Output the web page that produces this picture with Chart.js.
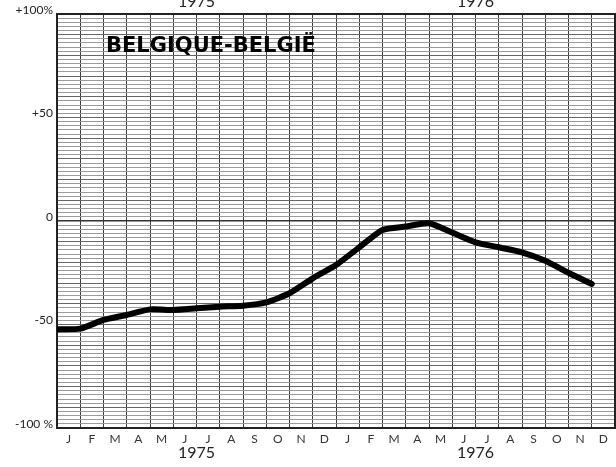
<!DOCTYPE html>
<html>
<head>
<meta charset="utf-8">
<script src="https://cdn.jsdelivr.net/npm/chart.js@4"></script>
<style>
    body { margin: 0; background: #fff; }
    canvas { display: block; }
</style>
</head>
<body>
<canvas id="belgiumChart" width="616" height="467"></canvas>
<script>
// month letters under the x axis, two years
const months = ['J', 'F', 'M', 'A', 'M', 'J', 'J', 'A', 'S', 'O', 'N', 'D',
                'J', 'F', 'M', 'A', 'M', 'J', 'J', 'A', 'S', 'O', 'N', 'D'];
const years = ['1975', '1976'];
// values read at the start of each month (%)
const values = [-52.3, -52.0, -47.8, -45.4, -42.7, -43.0, -42.2, -41.4, -40.9, -39.3, -34.9, -27.7,
                -21.3, -12.7, -4.3, -2.7, -1.1, -5.6, -10.3, -12.7, -15.1, -19.2, -25.0, -30.4];
const yTickValues = [100, 50, 0, -50, -100];
const yTickLabels = ['+100%', '+50', '0', '-50', '-100 %'];
const chartTitle = 'BELGIQUE-BELGIË';

document.addEventListener('DOMContentLoaded', function() {
    var ctx = document.getElementById('belgiumChart').getContext('2d');

    const titlePlugin = {
        id: 'plotTitle',
        afterDraw(chart) {
            const c = chart.ctx;
            const area = chart.chartArea;
            c.save();
            c.font = 'bold 21px "DejaVu Sans"';
            c.fillStyle = '#000';
            c.textBaseline = 'middle';
            c.textAlign = 'left';
            c.fillText(chartTitle, area.left + 49, area.top + 33);
            c.restore();
        }
    };

    new Chart(ctx, {
        type: 'line',
        data: {
            datasets: [{
                data: values.map((v, i) => ({ x: i, y: v })),
                borderColor: '#000',
                borderWidth: 6,
                borderCapStyle: 'round',
                borderJoinStyle: 'round',
                tension: 0.2,
                pointRadius: 0,
                fill: false
            }]
        },
        options: {
            responsive: false,
            animation: false,
            devicePixelRatio: 1,
            layout: { padding: { left: 0, right: 1, top: 0, bottom: 0 } },
            plugins: {
                legend: { display: false },
                tooltip: { enabled: false }
            },
            scales: {
                x: {
                    type: 'linear',
                    position: 'bottom',
                    min: 0,
                    max: 24,
                    ticks: { stepSize: 1, display: false, autoSkip: false },
                    grid: { color: '#3a3a3a', lineWidth: 1, drawTicks: false },
                    border: { color: '#222', width: 2 },
                    afterFit(scale) { scale.height = 0; }
                },
                months: {
                    type: 'category',
                    position: 'bottom',
                    labels: months,
                    offset: true,
                    grid: { display: false, drawTicks: false },
                    border: { display: false },
                    ticks: {
                        autoSkip: false,
                        maxRotation: 0,
                        padding: 4,
                        color: '#333',
                        font: { family: 'Lato', size: 12 }
                    },
                    afterFit(scale) { scale.height = 18; }
                },
                years: {
                    type: 'category',
                    position: 'bottom',
                    labels: years,
                    offset: true,
                    grid: { display: false, drawTicks: false },
                    border: { display: false },
                    ticks: {
                        maxRotation: 0,
                        padding: -3,
                        color: '#222',
                        font: { family: 'Lato', size: 16 }
                    },
                    afterFit(scale) { scale.height = 21; }
                },
                top: {
                    type: 'category',
                    position: 'top',
                    labels: years,
                    offset: true,
                    grid: { display: false, drawTicks: false },
                    border: { color: '#222', width: 2 },
                    ticks: {
                        maxRotation: 0,
                        padding: 3,
                        color: '#222',
                        font: { family: 'Lato', size: 16 }
                    },
                    afterFit(scale) { scale.height = 14; }
                },
                y: {
                    min: -100,
                    max: 100,
                    ticks: {
                        stepSize: 2,
                        autoSkip: false,
                        padding: 4,
                        labelOffset: -4,
                        color: '#222',
                        font: { family: 'Lato', size: 12 },
                        callback: function(value) {
                            const idx = yTickValues.indexOf(value);
                            return idx >= 0 ? yTickLabels[idx] : '';
                        }
                    },
                    grid: {
                        drawTicks: false,
                        color: function(c) {
                            const v = c.tick.value;
                            if (v === 0) return '#333';
                            if (v % 10 === 0) return '#666';
                            return '#9a9a9a';
                        },
                        lineWidth: function(c) {
                            return c.tick.value === 0 ? 1.5 : 1;
                        }
                    },
                    border: { color: '#222', width: 2 },
                    afterFit(scale) { scale.width = 57; }
                },
                yRight: {
                    position: 'right',
                    min: -100,
                    max: 100,
                    ticks: { display: false },
                    grid: { display: false, drawTicks: false },
                    border: { color: '#222', width: 2 },
                    afterFit(scale) { scale.width = 0; }
                }
            }
        },
        plugins: [titlePlugin]
    });
});
</script>
</body>
</html>
